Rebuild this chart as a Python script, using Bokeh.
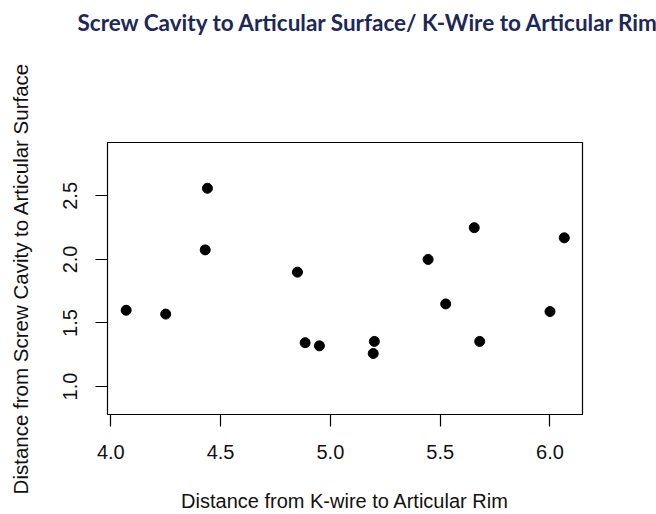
from bokeh.plotting import figure
from bokeh.models import Range1d, FixedTicker, PrintfTickFormatter, Title
from bokeh.embed import file_html
from bokeh.resources import INLINE

# Data
kwire_dist = [4.07, 4.25, 4.44, 4.43, 4.85, 4.885, 4.95, 5.20, 5.195, 5.445, 5.525, 5.655, 5.68, 6.00, 6.065]
screw_dist = [1.60, 1.57, 2.56, 2.075, 1.90, 1.345, 1.32, 1.355, 1.26, 2.00, 1.65, 2.25, 1.355, 1.59, 2.17]
x_ticks = [4.0, 4.5, 5.0, 5.5, 6.0]
y_ticks = [1.0, 1.5, 2.0, 2.5]

title_text = "Screw Cavity to Articular Surface/ K-Wire to Articular Rim"
x_label = "Distance from K-wire to Articular Rim"
y_label = "Distance from Screw Cavity to Articular Surface"

p = figure(width=656, height=514, output_backend="svg", toolbar_location=None,
           x_range=Range1d(3.985, 6.148), y_range=Range1d(0.78, 2.92),
           min_border_left=107, min_border_right=74, min_border_top=142, min_border_bottom=100)

p.background_fill_color = "white"
p.border_fill_color = "white"
p.outline_line_color = "black"
p.outline_line_width = 1.2
p.xgrid.visible = False
p.ygrid.visible = False

p.scatter(kwire_dist, screw_dist, size=10, marker="circle", color="black")

axis_font = "Liberation Sans"
for ax in (p.xaxis[0], p.yaxis[0]):
    ax.axis_line_color = None
    ax.major_tick_line_color = "black"
    ax.major_tick_line_width = 1.2
    ax.major_tick_out = 12
    ax.major_tick_in = 0
    ax.minor_tick_line_color = None
    ax.major_label_text_font = axis_font
    ax.major_label_text_font_size = "20px"
    ax.major_label_text_color = "#111111"
    ax.axis_label_text_font = axis_font
    ax.axis_label_text_font_style = "normal"
    ax.axis_label_text_color = "#111111"
    ax.formatter = PrintfTickFormatter(format="%.1f")

p.xaxis.axis_label_text_font_size = "20px"
p.yaxis.axis_label_text_font_size = "20.5px"
p.xaxis.ticker = FixedTicker(ticks=x_ticks)
p.yaxis.ticker = FixedTicker(ticks=y_ticks)
p.xaxis.axis_label = x_label
p.yaxis.axis_label = y_label
p.xaxis.major_label_standoff = 18
p.xaxis.axis_label_standoff = 28
p.yaxis.major_label_standoff = 18
p.yaxis.axis_label_standoff = 29
p.yaxis.major_label_orientation = "vertical"

# spacer between frame and the main title (keeps the title near the top edge)
spacer = Title(text=" ", standoff=90, text_font_size="10px", text_color="white")
p.add_layout(spacer, "above")

title = Title(text=title_text, align="left", offset=-30, vertical_align="top",
              standoff=4, text_font="Lato", text_font_style="bold",
              text_font_size="22.5px", text_color="#1c2857")
p.add_layout(title, "above")

open("out.html", "w").write(file_html(p, INLINE))
